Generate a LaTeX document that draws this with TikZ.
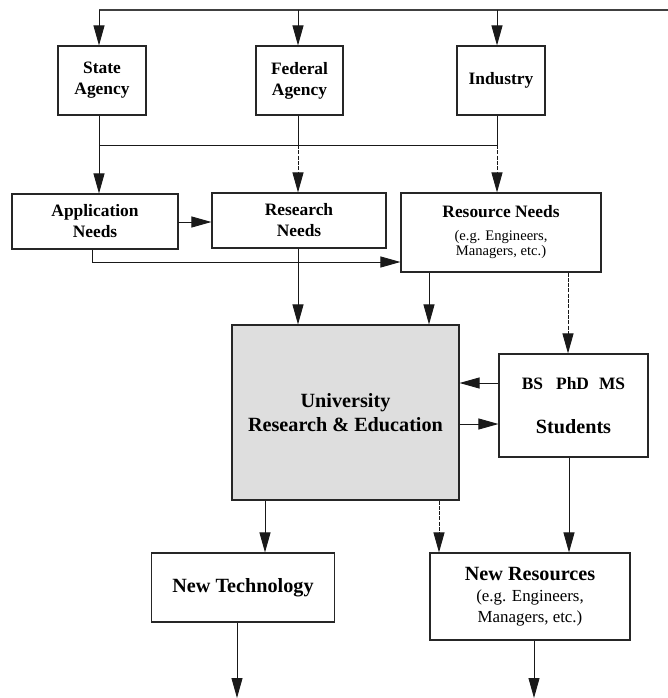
\documentclass[tikz,border=0pt]{standalone}
\usepackage{fontspec}
\setmainfont{Liberation Serif}
\usetikzlibrary{arrows.meta}

\newcommand{\hdA}{\fontsize{17.4}{21}\selectfont\bfseries}
\newcommand{\hdB}{\fontsize{20.2}{24}\selectfont\bfseries}
\newcommand{\subA}{\fontsize{14.6}{15}\selectfont\mdseries}
\newcommand{\subB}{\fontsize{16.9}{21}\selectfont\mdseries}

\begin{document}
\begin{tikzpicture}[x=1pt,y=-1pt,
  box/.style={draw=black!85, line width=1.1pt, fill=white, inner sep=0pt,
    align=center, anchor=center},
  smallbox/.style={box, font=\hdA},
  bigbox/.style={box, font=\hdB},
  link/.style={draw=black!90, line width=0.9pt},
  flow/.style={link, -{Triangle[length=20pt,width=11pt]}},
  dflow/.style={flow, dash pattern=on 4pt off 1.3pt},
]
\useasboundingbox (0,0) rectangle (668,698);

% sources
\node[smallbox, minimum width=88pt, minimum height=69pt] (state) at (102,80.5) {State\\Agency};
\node[smallbox, minimum width=87pt, minimum height=69pt] (federal) at (299.5,80.5) {Federal\\Agency};
\node[smallbox, minimum width=88pt, minimum height=69pt] (industry) at (501,80.5) {Industry};

% needs
\node[smallbox, minimum width=166pt, minimum height=55pt] (app) at (95,221.5) {Application\\Needs};
\node[smallbox, minimum width=174pt, minimum height=55pt] (research) at (299,220.5) {Research\\Needs};
\node[box, font=\subA, minimum width=200pt, minimum height=79pt] (resource) at (501,232.5)
  {\hdA Resource Needs\\[8pt] \subA (e.g. Engineers,\\ \subA Managers, etc.)};

% core
\node[bigbox, fill=black!13, minimum width=227pt, minimum height=175pt] (univ) at (345.5,412.5)
  {University\\Research \& Education};
\node[box, font=\hdA, minimum width=149pt, minimum height=103pt] (students) at (573.5,405.5)
  {\hdA BS\hspace{13pt}PhD\hspace{10pt}MS\\[23pt] \hdB Students};

% outcomes
\node[bigbox, minimum width=183pt, minimum height=69pt] (newtech) at (243,587.5) {New Technology};
\node[box, font=\subB, minimum width=200pt, minimum height=87pt] (newres) at (530,596.5)
  {\hdB New Resources\\ \subB (e.g. Engineers,\\ \subB Managers, etc.)};

% feed line on top
\coordinate (t1) at (99,10);
\coordinate (t2) at (298,10);
\coordinate (t3) at (497,10);
\coordinate (tend) at (668,10);
\draw[link, line width=1.3pt, draw=black!75] (t1) -- (tend);
\draw[flow] (t1) -- (t1 |- state.north);
\draw[flow] (t2) -- (t2 |- federal.north);
\draw[flow] (t3) -- (t3 |- industry.north);

% collector line
\coordinate (j1) at (99,145);
\coordinate (j2) at (298,145);
\coordinate (j3) at (497,145);
\draw[link] (j1 |- state.south) -- (j1);
\draw[link] (j2 |- federal.south) -- (j2);
\draw[link] (j3 |- industry.south) -- (j3);
\draw[link] (j1) -- (j3);
\draw[flow] (j1) -- (j1 |- app.north);
\draw[dflow] (j2) -- (j2 |- research.north);
\draw[dflow] (j3) -- (j3 |- resource.north);

% needs links
\coordinate (a1) at (178,222);
\draw[flow] (a1) -- (a1 -| research.west);
\coordinate (a2) at (92,249);
\coordinate (a3) at (92,262);
\draw[flow] (a2 |- app.south) -- (a3) -- (a3 -| resource.west);

\coordinate (r1) at (298,0);
\coordinate (r2) at (429,0);
\coordinate (r3) at (568,0);
\draw[flow] (r1 |- research.south) -- (r1 |- univ.north);
\draw[flow] (r2 |- resource.south) -- (r2 |- univ.north);
\draw[dflow] (r3 |- resource.south) -- (r3 |- students.north);

% university and students
\coordinate (s1) at (0,383);
\coordinate (s2) at (0,424);
\draw[flow] (s1 -| students.west) -- (s1 -| univ.east);
\draw[flow] (s2 -| univ.east) -- (s2 -| students.west);

% outcomes
\coordinate (u1) at (265,0);
\coordinate (u2) at (439,0);
\coordinate (u3) at (569,0);
\draw[flow] (u1 |- univ.south) -- (u1 |- newtech.north);
\draw[dflow] (u2 |- univ.south) -- (u2 |- newres.north);
\draw[flow] (u3 |- students.south) -- (u3 |- newres.north);

\coordinate (o1) at (237,698);
\coordinate (o2) at (534,698);
\draw[flow] (o1 |- newtech.south) -- (o1);
\draw[flow] (o2 |- newres.south) -- (o2);
\end{tikzpicture}
\end{document}
